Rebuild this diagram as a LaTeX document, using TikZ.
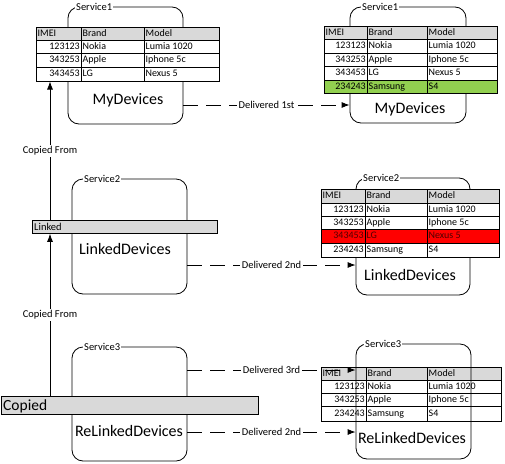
\documentclass[tikz,border=0pt]{standalone}
\usepackage{fontspec}
\setmainfont{Carlito}
\usetikzlibrary{arrows.meta}
\definecolor{hdrgray}{RGB}{217,217,217}
\definecolor{rowgreen}{RGB}{146,208,80}
\definecolor{rowred}{RGB}{255,0,0}
\definecolor{redtext}{RGB}{80,0,0}
\tikzset{
  svc/.style={draw=black, line width=0.8pt, rounded corners=11pt, inner sep=0pt},
  svcname/.style={fill=white, inner sep=1pt, anchor=west, font=\fontsize{10.5}{11}\selectfont},
  big/.style={inner sep=0pt, anchor=base, font=\fontsize{16}{18}\selectfont},
  tline/.style={draw=black, line width=0.8pt},
  cell/.style={inner sep=0pt, text height=7pt, text depth=2pt, font=\fontsize{10}{11}\selectfont},
  barbox/.style={draw=black, fill=hdrgray, line width=0.8pt},
  deliv/.style={line width=0.8pt, dash pattern=on 15pt off 8pt, -{Latex[length=8pt,width=6pt]}},
  copyarr/.style={line width=0.8pt, -{Latex[length=8pt,width=6pt]}},
  lbl/.style={fill=white, inner sep=1.5pt, font=\fontsize{10.5}{11}\selectfont},
}
% table helpers: columns \ca \cb \cc \cd
\newcommand\thead[3]{%
  \path[fill=hdrgray] (\ca,#2) rectangle (\cd,#3);
  \draw[tline] (\ca,#2) rectangle (\cd,#3) (\cb,#2) -- (\cb,#3) (\cc,#2) -- (\cc,#3);
  \node[cell,anchor=west] (#1i) at (\ca+1.5,{(#2+#3)/2}) {IMEI};
  \node[cell,anchor=west] (#1b) at (\cb+1.5,{(#2+#3)/2}) {Brand};
  \node[cell,anchor=west] (#1m) at (\cc+1.5,{(#2+#3)/2}) {Model};
}
\newcommand\trow[8]{%
  \path[fill=#4] (\ca,#2) rectangle (\cd,#3);
  \draw[tline] (\ca,#2) rectangle (\cd,#3) (\cb,#2) -- (\cb,#3) (\cc,#2) -- (\cc,#3);
  \node[cell,anchor=east,text=#8] (#1i) at (\cb-1,{(#2+#3)/2}) {#5};
  \node[cell,anchor=west,text=#8] (#1b) at (\cb+1.5,{(#2+#3)/2}) {#6};
  \node[cell,anchor=west,text=#8] (#1m) at (\cc+1.5,{(#2+#3)/2}) {#7};
}
\begin{document}
\begin{tikzpicture}[x=1pt,y=-1pt]
\useasboundingbox[fill=white] (0,0) rectangle (505,463);

% ---------- Service1 (left) ----------
\node[svc, minimum width=115pt, minimum height=117pt] (s1l) at (125.5,65.5) {};
\node[svcname] (s1ln) at (75,7) {Service1};
\def\ca{36}\def\cb{81}\def\cc{144}\def\cd{219}
\thead{tla}{27}{40}
\trow{tlb}{40}{53}{white}{123123}{Nokia}{Lumia 1020}{black}
\trow{tlc}{53}{67}{white}{343253}{Apple}{Iphone 5c}{black}
\trow{tld}{67}{81}{white}{343453}{LG}{Nexus 5}{black}
\node[big] (s1lt) at (128,104) {MyDevices};

% ---------- Service1 (right) ----------
\node[svc, minimum width=116pt, minimum height=116pt] (s1r) at (408,65) {};
\node[svcname] (s1rn) at (361,7) {Service1};
\def\ca{324}\def\cb{367}\def\cc{427}\def\cd{497}
\thead{tra}{26}{39}
\trow{trb}{39}{53}{white}{123123}{Nokia}{Lumia 1020}{black}
\trow{trc}{53}{66}{white}{343253}{Apple}{Iphone 5c}{black}
\trow{trd}{66}{80}{white}{343453}{LG}{Nexus 5}{black}
\trow{tre}{80}{93}{rowgreen}{234243}{Samsung}{S4}{black}
\node[big] (s1rt) at (410,113) {MyDevices};

% ---------- Service2 (left) ----------
\node[svc, minimum width=115pt, minimum height=115pt] (s2l) at (129.5,236.5) {};
\node[svcname] (s2ln) at (83,179) {Service2};
\node[barbox, inner sep=0pt, minimum width=185pt, minimum height=13pt, anchor=north west] (lbar) at (32,220) {};
\node[inner sep=0pt, anchor=base west, font=\fontsize{10.5}{11}\selectfont] (lbart) at (34,230) {Linked};
\node[big] (s2lt) at (125,254) {LinkedDevices};

% ---------- Service2 (right) ----------
\node[svc, minimum width=114pt, minimum height=117pt] (s2r) at (413,236.5) {};
\node[svcname] (s2rn) at (362,178) {Service2};
\def\ca{321}\def\cb{365}\def\cc{427}\def\cd{499}
\thead{mra}{189}{203}
\trow{mrb}{203}{216}{white}{123123}{Nokia}{Lumia 1020}{black}
\trow{mrc}{216}{229}{white}{343253}{Apple}{Iphone 5c}{black}
\trow{mrd}{229}{243}{rowred}{343453}{LG}{Nexus 5}{redtext}
\trow{mre}{243}{257}{white}{234243}{Samsung}{S4}{black}
\node[big] (s2rt) at (410,280) {LinkedDevices};

% ---------- Service3 (left) ----------
\node[svc, minimum width=115pt, minimum height=114pt] (s3l) at (129.5,404) {};
\node[svcname] (s3ln) at (83,347) {Service3};
\node[barbox, inner sep=0pt, minimum width=257.5pt, minimum height=18pt, anchor=north west] (cbar) at (0.5,396) {};
\node[inner sep=0pt, anchor=base west, font=\fontsize{15.5}{17}\selectfont] (cbart) at (3,410.5) {Copied};
\node[big] (s3lt) at (129,436) {ReLinkedDevices};

% ---------- Service3 (right) ----------
\def\ca{321}\def\cb{366}\def\cc{427}\def\cd{501}
\thead{bra}{367}{380}
\trow{brb}{380}{393}{white}{123123}{Nokia}{Lumia 1020}{black}
\trow{brc}{393}{406}{white}{343253}{Apple}{Iphone 5c}{black}
\trow{brd}{406}{421}{white}{234243}{Samsung}{S4}{black}
\node[svc, minimum width=115pt, minimum height=115pt] (s3r) at (413.5,401.5) {};
\node[svcname] (s3rn) at (364,344) {Service3};
\node[big] (s3rt) at (412,443) {ReLinkedDevices};

% ---------- Copied From arrows ----------
\coordinate (cu1) at (lbar.north -| 50,0);
\coordinate (cu2) at (50,81.5);
\draw[copyarr] (cu1) -- node[lbl] (cf1) {Copied From} (cu2);
\coordinate (cl1) at (cbar.north -| 50,0);
\coordinate (cl2) at (lbar.south -| 50,0);
\draw[copyarr] (cl1) -- node[lbl, pos=0.5] (cf2) {Copied From} (cl2);

% ---------- Delivered arrows ----------
\coordinate (d1a) at (s1l.east |- 0,105);
\coordinate (d1b) at (s1r.west |- 0,105);
\draw[deliv] (d1a) -- node[lbl] (d1l) {Delivered 1st} (d1b);
\coordinate (d2a) at (s2l.east |- 0,265);
\coordinate (d2b) at (s2r.west |- 0,265);
\draw[deliv] (d2a) -- node[lbl] (d2l) {Delivered 2nd} (d2b);
\coordinate (d3a) at (s3l.east |- 0,370);
\coordinate (d3b) at (s3r.west |- 0,370);
\draw[deliv] (d3a) -- node[lbl] (d3l) {Delivered 3rd} (d3b);
\coordinate (d4a) at (s3l.east |- 0,432);
\coordinate (d4b) at (s3r.west |- 0,432);
\draw[deliv] (d4a) -- node[lbl] (d4l) {Delivered 2nd} (d4b);
\end{tikzpicture}
\end{document}
